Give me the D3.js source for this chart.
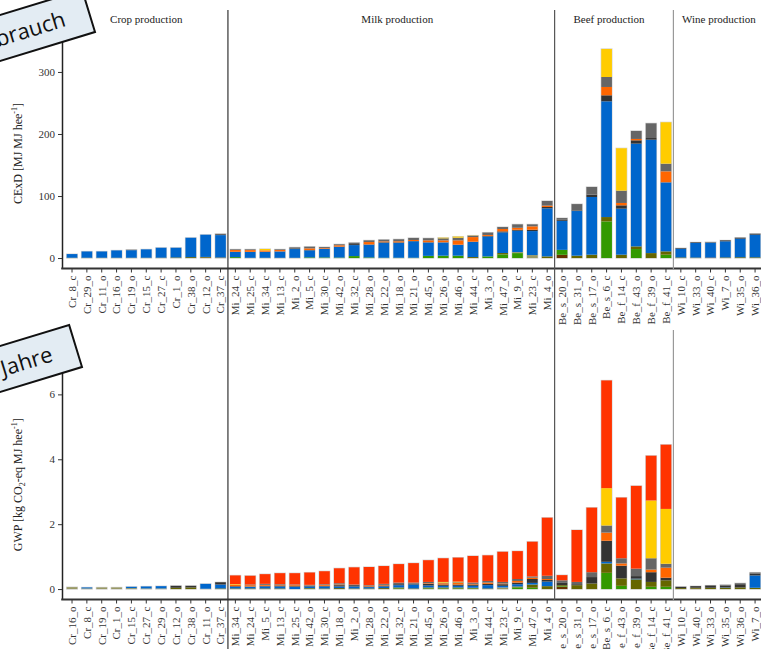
<!DOCTYPE html>
<html>
<head>
<meta charset="utf-8">
<script src="https://cdn.jsdelivr.net/npm/d3@7"></script>
<style>
  html, body { margin: 0; padding: 0; background: #fff; overflow: hidden; }
  svg { display: block; }
</style>
</head>
<body>
<svg id="chart" width="761" height="649"></svg>
<script>
// Stack components, bottom to top (the legend is cut off in the source figure)
const components = ["Land", "Animals", "Feed", "Seeds", "Energy", "Machinery", "Fertiliser", "Buildings", "Transport", "Emissions"];
const componentColors = ["#663300", "#339900", "#666600", "#999966", "#0066cc", "#333333", "#ff6600", "#666666", "#ffcc00", "#ff3300"];

const groupNames = ["Crop production", "Milk production", "Beef production", "Wine production"];
const groupPrefixes = ["Cr", "Mi", "Be", "Wi"];

// CExD [MJ MJ hee-1]
const cexdSites = [
  "Cr_8_c", "Cr_29_o", "Cr_11_o", "Cr_16_o", "Cr_19_o", "Cr_15_c", "Cr_27_c", "Cr_1_o", "Cr_38_o", "Cr_12_o", "Cr_37_c",
  "Mi_24_c", "Mi_25_c", "Mi_34_c", "Mi_13_c", "Mi_2_o", "Mi_5_c", "Mi_30_c", "Mi_42_o", "Mi_32_c", "Mi_28_o", "Mi_22_o",
  "Mi_18_o", "Mi_21_o", "Mi_45_o", "Mi_26_o", "Mi_46_o", "Mi_44_c", "Mi_3_o", "Mi_47_o", "Mi_9_c", "Mi_23_c", "Mi_4_o",
  "Be_s_20_o", "Be_s_31_o", "Be_s_17_o", "Be_s_6_c", "Be_f_14_c", "Be_f_43_o", "Be_f_39_o", "Be_f_41_c",
  "Wi_10_c", "Wi_33_o", "Wi_40_c", "Wi_7_o", "Wi_35_o", "Wi_36_o"
];
const cexdValues = [
  [0, 0, 0.5, 0, 5.9, 0, 0, 0, 0, 0],
  [0, 0, 0.5, 0, 10.1, 0, 0, 0, 0, 0],
  [0, 0, 0.5, 0, 10.1, 0, 0, 0, 0, 0],
  [0, 0, 0.5, 0, 11.8, 0, 0, 0, 0, 0],
  [0, 0, 0.5, 0, 12.2, 0, 0, 0.7, 0, 0],
  [0, 0, 0.5, 0, 13.5, 0, 0, 0, 0, 0],
  [0, 0, 0.6, 0, 16, 0, 0, 0, 0, 0],
  [0, 0, 1, 0, 15.6, 0, 0, 0, 0, 0],
  [0, 0, 1.5, 0, 31.2, 0, 0, 0, 0, 0],
  [0.8, 0, 1, 0, 35.8, 0, 0, 0, 0, 0],
  [0.5, 0, 0.5, 0, 36, 0, 0, 2, 0, 0],
  [0, 1.5, 0, 0, 8.6, 0, 2.8, 1.1, 0, 0],
  [0, 0, 0.4, 0, 9.6, 0, 2.8, 1.2, 0, 0],
  [0, 0, 0.4, 0, 9.8, 0, 2.2, 0, 2.2, 0],
  [0, 0, 0.4, 0, 10.3, 0, 2.2, 1.1, 0, 0],
  [0, 0, 0.4, 0, 14.1, 1.1, 0, 1.6, 0, 0],
  [0, 1.1, 0, 0, 11.3, 0.5, 2.7, 2.7, 0, 0],
  [0, 1, 0, 0, 14, 0, 1.1, 1.6, 0, 0],
  [0, 0.8, 0, 0, 17.2, 0.4, 2.2, 1.6, 0, 0],
  [0, 3.2, 0, 0, 17.7, 1.6, 0, 2.2, 0, 0],
  [0, 1, 0, 0, 20.5, 0.5, 3.8, 2.7, 0, 0],
  [0, 0.5, 0, 0, 24.2, 0.8, 1.4, 2.7, 0, 0],
  [0, 0.5, 0, 0, 24, 0.8, 1.8, 3.2, 0, 0],
  [0, 0.5, 0, 0, 26.5, 0.5, 1.6, 3.3, 0, 0],
  [0, 3.5, 0, 0, 21.5, 0.5, 3, 3.5, 0, 0],
  [0, 3.8, 0, 0, 21.5, 0, 3.2, 3.3, 1, 0],
  [0, 3.8, 0, 0, 17.7, 0, 7, 4.3, 1.8, 0],
  [0, 0, 1.6, 0, 24.7, 0, 7.5, 2.2, 0.3, 0],
  [0, 2.7, 0, 0, 32, 1, 1.5, 3.9, 0, 0],
  [0, 5.9, 2.2, 0, 33.3, 1.6, 3.8, 3.2, 0, 0],
  [0, 8, 0, 1.6, 34.4, 1.6, 3.2, 5.5, 0, 0],
  [0, 0, 0, 4.8, 38.7, 2.2, 5.4, 3.2, 0, 0],
  [0, 0, 2.7, 0, 77.4, 2.2, 2.2, 7.5, 0, 0],
  [5.2, 8, 0, 0, 46.8, 1.6, 0, 2.9, 0, 0],
  [0, 0, 3.8, 0, 72, 1, 0, 10.2, 0, 0],
  [0, 0, 5.4, 0, 93, 3.8, 0, 12.4, 0, 0],
  [0, 59.1, 7, 0, 186.6, 9.7, 13.4, 16.1, 45.2, 0],
  [0, 0, 5.4, 0, 74.2, 5.4, 3.8, 19.9, 68.3, 0],
  [0, 14.5, 4.3, 0, 165.6, 5.4, 2.2, 12.9, 0, 0],
  [0, 0, 8, 0, 182.8, 2.7, 0, 23.7, 0, 0],
  [0, 5.4, 5.4, 0, 111.3, 0, 17.7, 12.4, 66.7, 0],
  [0, 0, 1, 0, 14, 1, 0, 0, 0, 0],
  [0, 0, 0.8, 0, 23.5, 1, 0, 0, 0, 0],
  [0.8, 0, 0, 0, 24, 0, 0, 1, 0, 0],
  [0, 0, 1, 0, 26, 1.5, 0, 0, 0, 0],
  [0, 0, 1.3, 0, 30, 1.5, 0, 0, 0, 0],
  [0, 0, 1.2, 0, 36.5, 1.5, 0, 0, 0, 0]
];
const cexdTicks = [0, 100, 200, 300];

// GWP [kg CO2-eq MJ hee-1]
const gwpSites = [
  "Cr_16_o", "Cr_8_c", "Cr_19_o", "Cr_1_o", "Cr_15_c", "Cr_27_c", "Cr_29_o", "Cr_12_o", "Cr_38_o", "Cr_11_o", "Cr_37_c",
  "Mi_34_c", "Mi_24_c", "Mi_5_c", "Mi_13_c", "Mi_25_c", "Mi_42_o", "Mi_30_c", "Mi_18_o", "Mi_2_o", "Mi_28_o", "Mi_22_o",
  "Mi_32_c", "Mi_21_o", "Mi_45_o", "Mi_26_o", "Mi_46_o", "Mi_3_o", "Mi_44_c", "Mi_23_c", "Mi_9_c", "Mi_47_o", "Mi_4_o",
  "Be_s_20_o", "Be_s_31_o", "Be_s_17_o", "Be_s_6_c", "Be_f_43_o", "Be_f_39_o", "Be_f_14_c", "Be_f_41_c",
  "Wi_10_c", "Wi_40_c", "Wi_33_o", "Wi_35_o", "Wi_36_o", "Wi_7_o"
];
const gwpValues = [
  [0, 0, 0, 0.06, 0, 0, 0, 0, 0, 0],
  [0, 0, 0, 0.02, 0.03, 0, 0, 0, 0, 0],
  [0, 0, 0, 0.05, 0, 0, 0, 0, 0, 0],
  [0, 0, 0, 0.05, 0, 0, 0, 0, 0, 0],
  [0, 0, 0, 0.03, 0.04, 0, 0, 0, 0, 0],
  [0, 0, 0, 0.02, 0.06, 0, 0, 0, 0, 0],
  [0, 0, 0, 0.02, 0.07, 0, 0, 0, 0, 0],
  [0, 0, 0.04, 0, 0, 0.06, 0, 0, 0, 0],
  [0, 0, 0.05, 0, 0, 0.05, 0, 0, 0, 0],
  [0, 0, 0, 0.01, 0.15, 0, 0, 0, 0, 0],
  [0, 0, 0.02, 0, 0.12, 0.07, 0, 0, 0, 0],
  [0, 0, 0.02, 0, 0.05, 0.02, 0.04, 0, 0.02, 0.27],
  [0, 0, 0.02, 0, 0.05, 0.01, 0.04, 0.02, 0, 0.27],
  [0, 0, 0.02, 0, 0.06, 0.02, 0.03, 0.03, 0, 0.30],
  [0, 0, 0.02, 0, 0.06, 0.03, 0.02, 0.02, 0, 0.34],
  [0, 0, 0, 0, 0.07, 0.02, 0.03, 0.02, 0, 0.35],
  [0, 0.01, 0.02, 0, 0.05, 0.02, 0.01, 0.02, 0, 0.38],
  [0, 0, 0.02, 0, 0.06, 0.02, 0.03, 0.02, 0, 0.40],
  [0, 0, 0.03, 0, 0.05, 0.04, 0.02, 0.04, 0, 0.46],
  [0, 0, 0.02, 0, 0.06, 0.04, 0, 0.02, 0, 0.53],
  [0, 0, 0.02, 0, 0.04, 0.02, 0.02, 0.02, 0, 0.56],
  [0, 0, 0.03, 0, 0.05, 0.03, 0.02, 0.03, 0, 0.55],
  [0, 0.02, 0.03, 0, 0.07, 0.03, 0, 0.05, 0, 0.57],
  [0, 0, 0.02, 0, 0.12, 0.03, 0, 0.03, 0, 0.60],
  [0, 0.02, 0.03, 0, 0.06, 0.05, 0.02, 0.04, 0, 0.67],
  [0, 0.02, 0.03, 0, 0.05, 0.04, 0.04, 0.02, 0.02, 0.73],
  [0, 0.02, 0.03, 0, 0.05, 0.04, 0.05, 0.02, 0.02, 0.74],
  [0, 0.02, 0.02, 0, 0.06, 0.04, 0.02, 0.04, 0, 0.82],
  [0, 0, 0.02, 0, 0.10, 0.04, 0.04, 0.05, 0, 0.79],
  [0, 0, 0.02, 0.03, 0.05, 0.05, 0.02, 0.05, 0, 0.93],
  [0, 0.05, 0.03, 0, 0.07, 0.05, 0.05, 0.06, 0, 0.86],
  [0, 0.04, 0.10, 0, 0.05, 0.12, 0.04, 0.04, 0, 1.07],
  [0, 0, 0.09, 0, 0.14, 0.05, 0.03, 0.10, 0, 1.79],
  [0.07, 0.02, 0.03, 0, 0, 0.07, 0, 0.08, 0, 0.16],
  [0, 0, 0.12, 0, 0, 0.03, 0, 0.07, 0, 1.60],
  [0, 0, 0.17, 0, 0, 0.20, 0, 0.15, 0, 1.99],
  [0, 0.50, 0.29, 0, 0.05, 0.65, 0.25, 0.22, 1.15, 3.32],
  [0, 0.10, 0.23, 0, 0, 0.39, 0.07, 0.16, 0, 1.87],
  [0, 0, 0.30, 0, 0.02, 0.08, 0, 0.23, 0, 2.55],
  [0, 0.07, 0.15, 0, 0, 0.30, 0.08, 0.35, 1.78, 1.38],
  [0, 0.07, 0.20, 0, 0, 0.08, 0.31, 0.12, 1.69, 1.98],
  [0, 0, 0.03, 0, 0, 0.04, 0, 0, 0, 0],
  [0.01, 0, 0.03, 0, 0, 0.05, 0, 0, 0, 0],
  [0, 0, 0.04, 0, 0, 0.07, 0, 0, 0, 0],
  [0, 0, 0.04, 0, 0.01, 0.06, 0, 0.02, 0, 0],
  [0, 0, 0.05, 0, 0, 0.10, 0, 0.03, 0, 0],
  [0, 0, 0.04, 0, 0.38, 0.06, 0, 0.03, 0, 0]
];
const gwpTicks = [0, 2, 4, 6];

// Layout
let width = 761,
  height = 649,
  axisX = 62,
  xRange = [64.6, 762.5],
  serif = "'Liberation Serif', 'Times New Roman', serif",
  textFill = "#333",
  stripNudge = [0, 6, -5, 1]; // strip titles are not quite centred in the original

const svg = d3.select("#chart");

let color = d3.scaleOrdinal().domain(components).range(componentColors);

function drawPanel(sites, values, ticks, top, bottom, titleFn) {
  let x = d3.scaleBand().domain(sites).range(xRange).paddingInner(0.28).paddingOuter(0.14);

  let maxTotal = d3.max(values, d => d3.sum(d));
  let pad = maxTotal * 0.05; // ggplot style expansion
  let y = d3.scaleLinear().domain([-pad, maxTotal + pad]).range([bottom, top]);

  let rows = sites.map((s, i) => {
    let row = { site: s };
    components.forEach((c, j) => (row[c] = values[i][j]));
    return row;
  });
  let series = d3.stack().keys(components)(rows);

  const g = svg.append("g");

  // faint outline round each bar
  g.append("g")
    .selectAll("rect")
    .data(rows)
    .join("rect")
    .attr("x", d => x(d.site))
    .attr("width", x.bandwidth())
    .attr("y", d => y(d3.sum(components, c => d[c])))
    .attr("height", d => y(0) - y(d3.sum(components, c => d[c])))
    .attr("fill", "#fff")
    .attr("stroke", "#d4d4d4")
    .attr("stroke-width", 1.2);

  g.append("g")
    .selectAll("g")
    .data(series)
    .join("g")
    .attr("fill", d => color(d.key))
    .selectAll("rect")
    .data(d => d.filter(p => p[1] - p[0] > 0))
    .join("rect")
    .attr("x", d => x(d.data.site))
    .attr("width", x.bandwidth())
    .attr("y", d => y(d[1]))
    .attr("height", d => y(d[0]) - y(d[1]));

  // y axis
  const yAxis = g
    .append("g")
    .attr("transform", "translate(" + axisX + ",0)")
    .call(d3.axisLeft(y).tickValues(ticks).tickSize(4).tickSizeOuter(0).tickPadding(3));
  yAxis.select(".domain").attr("stroke", "#222").attr("stroke-width", 1.5);
  yAxis.selectAll(".tick line").attr("stroke", "#333");
  yAxis.selectAll(".tick text").attr("fill", textFill).attr("font-family", serif).attr("font-size", 11);

  // x axis
  const xAxis = g
    .append("g")
    .attr("transform", "translate(0," + bottom + ")")
    .call(d3.axisBottom(x).tickSize(4).tickSizeOuter(0));
  xAxis.select(".domain").remove();
  xAxis.selectAll(".tick line").attr("stroke", "#333");
  xAxis
    .selectAll(".tick text")
    .attr("fill", textFill)
    .attr("font-family", serif)
    .attr("font-size", 11)
    .attr("transform", "rotate(-90)")
    .attr("text-anchor", "end")
    .attr("x", -7)
    .attr("y", 0)
    .attr("dy", "0.35em");

  g.append("line")
    .attr("x1", axisX - 0.75)
    .attr("x2", width)
    .attr("y1", bottom)
    .attr("y2", bottom)
    .attr("stroke", "#333")
    .attr("stroke-width", 2);

  // y title
  const title = g
    .append("text")
    .attr("transform", "translate(22," + (top + bottom) / 2 + ") rotate(-90)")
    .attr("text-anchor", "middle")
    .attr("font-family", serif)
    .attr("font-size", 12)
    .attr("fill", "#222");
  titleFn(title);

  return x;
}

let xTop = drawPanel(cexdSites, cexdValues, cexdTicks, 38.5, 268.5, t => {
  t.append("tspan").text("CExD [MJ MJ hee");
  t.append("tspan").attr("font-size", 8).attr("dy", -5).text("-1");
  t.append("tspan").attr("dy", 5).text("]");
});

drawPanel(gwpSites, gwpValues, gwpTicks, 370, 599.5, t => {
  t.append("tspan").text("GWP [kg CO");
  t.append("tspan").attr("font-size", 8).attr("dy", 3).text("2");
  t.append("tspan").attr("dy", -3).text("-eq MJ hee");
  t.append("tspan").attr("font-size", 8).attr("dy", -5).text("-1");
  t.append("tspan").attr("dy", 5).text("]");
});

// Facet boundaries from the band scale
let groupSites = groupPrefixes.map(p => cexdSites.filter(s => s.startsWith(p)));
let half = (xTop.step() * 0.28) / 2;
let bounds = [xRange[0]];
groupSites.slice(0, -1).forEach(list => {
  bounds.push(xTop(list[list.length - 1]) + xTop.bandwidth() + half);
});
bounds.push(xRange[1]);

// separator line spans: [y1, y2] pieces, one list per boundary
let sepSpans = [
  [[10, 649]],
  [[10, 600]],
  [[10, 270], [330, 600]]
];
let sepColors = ["#333", "#555", "#999"];

bounds.slice(1, -1).forEach((bx, i) => {
  sepSpans[i].forEach(span => {
    svg
      .append("line")
      .attr("x1", bx)
      .attr("x2", bx)
      .attr("y1", span[0])
      .attr("y2", span[1])
      .attr("stroke", sepColors[i])
      .attr("stroke-width", 1.2);
  });
});

svg
  .append("g")
  .selectAll("text")
  .data(groupNames)
  .join("text")
  .attr("x", (d, i) => (bounds[i] + bounds[i + 1]) / 2 + stripNudge[i])
  .attr("y", 23)
  .attr("text-anchor", "middle")
  .attr("font-family", serif)
  .attr("font-size", 11)
  .attr("fill", "#222")
  .text(d => d);

// Callout boxes pasted over the figure
function callout(cx, cy, label) {
  const c = svg.append("g").attr("transform", "translate(" + cx + "," + cy + ") rotate(-17)");
  c.append("rect")
    .attr("x", -300)
    .attr("y", -44)
    .attr("width", 300)
    .attr("height", 44)
    .attr("fill", "#e3ecf3")
    .attr("stroke", "#111")
    .attr("stroke-width", 2);
  c.append("text")
    .attr("x", -25)
    .attr("y", -14)
    .attr("text-anchor", "end")
    .attr("font-family", "'Open Sans', 'Noto Sans', sans-serif")
    .attr("font-size", 22)
    .attr("fill", "#111")
    .text(label);
}

callout(95, 32, "Energieverbrauch");
callout(82, 367, "100 Jahre");
</script>
</body>
</html>
